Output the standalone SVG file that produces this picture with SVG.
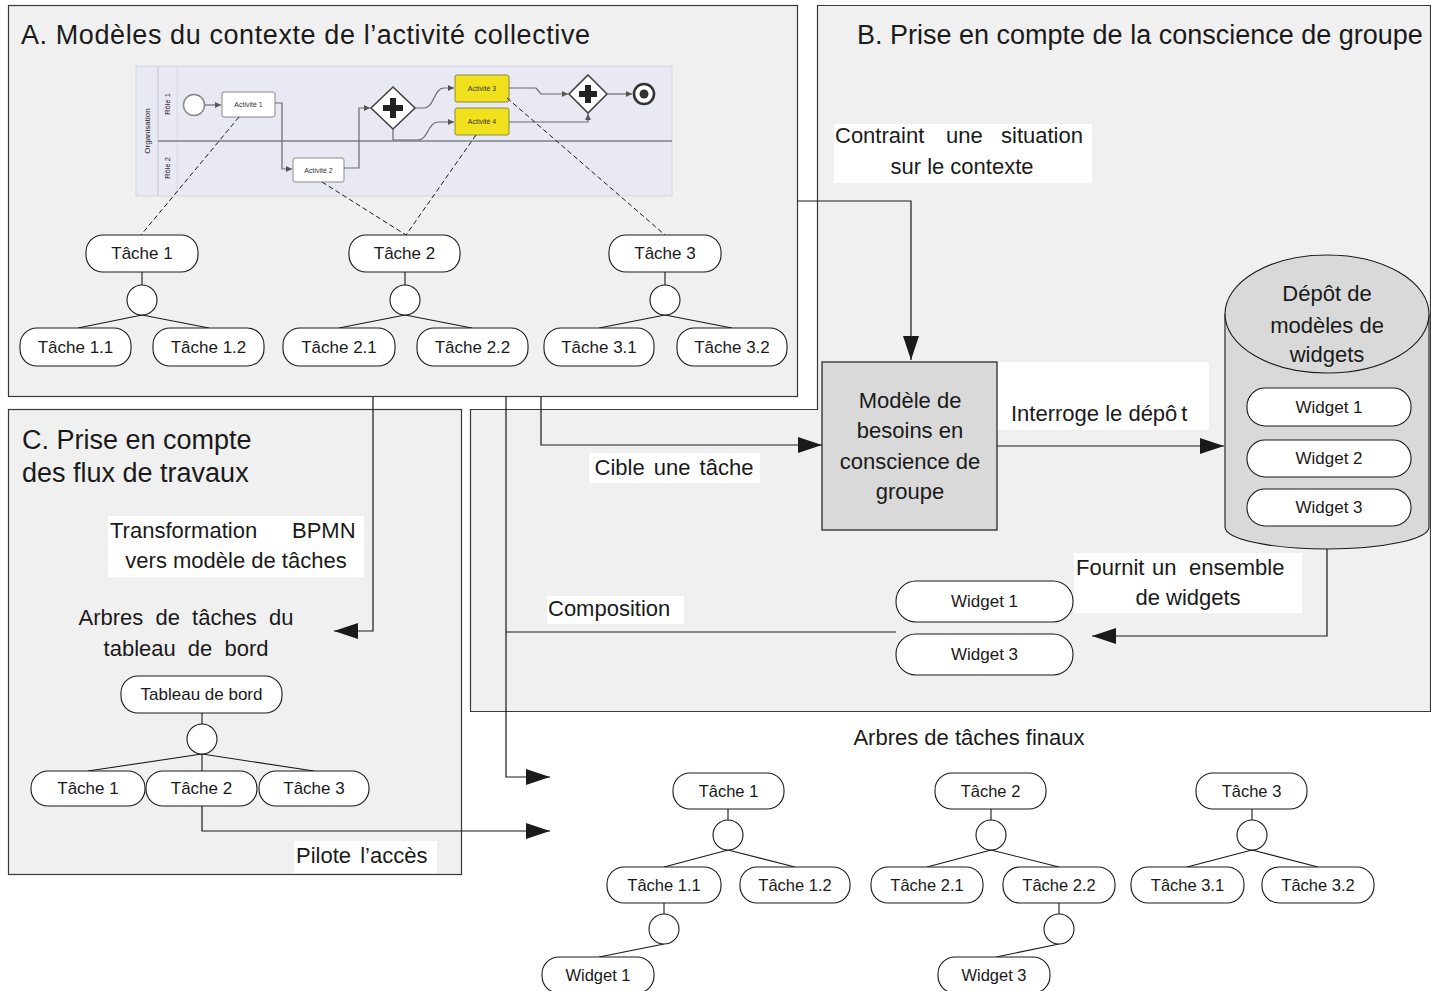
<svg xmlns="http://www.w3.org/2000/svg" width="1431" height="991" viewBox="0 0 1431 991">
<style>
text{font-family:"Liberation Sans",Arial,sans-serif;fill:#1a1a1a}
.frame{fill:#f0f0f0;stroke:#3a3a3a;stroke-width:1.2}
.title{font-size:27px}
.lbl{font-size:22px}
.lblbg{fill:#ffffff;stroke:none}
.node{fill:#ffffff;stroke:#1a1a1a;stroke-width:1.1}
.nt{font-size:17px;text-anchor:middle}
.ft{font-size:16.5px;text-anchor:middle}
.op{fill:#ffffff;stroke:#1a1a1a;stroke-width:1.1}
.tl{stroke:#1a1a1a;stroke-width:1.1;fill:none}
.conn{stroke:#1a1a1a;stroke-width:1.2;fill:none}
.dash{stroke:#1a1a1a;stroke-width:1;fill:none;stroke-dasharray:5 3}
.bp{stroke:#6a6a6a;stroke-width:1.2;fill:none}
.act{fill:#ffffff;stroke:#8a8a8a;stroke-width:1}
.acty{fill:#f1e11c;stroke:#8a8a3a;stroke-width:1}
.at{font-size:7px;text-anchor:middle;fill:#333}
.gw{fill:#ffffff;stroke:#444;stroke-width:1.6}
.big{font-size:22px;text-anchor:middle}
</style>
<defs>
<marker id="arr" markerUnits="userSpaceOnUse" markerWidth="24" markerHeight="16" refX="24" refY="8" orient="auto">
<path d="M0,0 L24,8 L0,16 Z" fill="#1a1a1a"/>
</marker>
<marker id="sarr" markerUnits="userSpaceOnUse" markerWidth="6" markerHeight="6" refX="6" refY="3" orient="auto">
<path d="M0,0 L6,3 L0,6 Z" fill="#555"/>
</marker>
</defs>
<rect x="0" y="0" width="1431" height="991" fill="#ffffff"/>

<!-- Frames -->
<g id="frameA">
<rect class="frame" x="8.5" y="5.5" width="789" height="391"/>
<text class="title" x="21" y="44" font-size="28" textLength="569" lengthAdjust="spacing">A. Modèles du contexte de l’activité collective</text>
</g>
<g id="frameB">
<path class="frame" d="M817.5,5.5 H1430.5 V711.5 H470.5 V409.5 H817.5 Z"/>
<text class="title" x="857" y="44">B. Prise en compte de la conscience de groupe</text>
</g>
<g id="frameC">
<rect class="frame" x="8.5" y="409.5" width="453" height="465"/>
<text class="title" x="22" y="449" font-size="28">C. Prise en compte</text>
<text class="title" x="22" y="482" font-size="28">des flux de travaux</text>
</g>

<!-- BPMN picture -->
<g id="bpmn">
<rect x="136" y="66" width="536" height="130" fill="#e9e9f3" stroke="#d6d6e2" stroke-width="1"/>
<line x1="158" y1="66" x2="158" y2="196" stroke="#c4c4d4" stroke-width="1"/>
<line x1="177" y1="66" x2="177" y2="196" stroke="#dadae6" stroke-width="1"/>
<line x1="158" y1="141" x2="672" y2="141" stroke="#9a9aa6" stroke-width="2"/>
<text x="0" y="0" font-size="8" fill="#5b7db5" text-anchor="middle" transform="translate(150,131) rotate(-90)">Organisation</text>
<text x="0" y="0" font-size="7.5" fill="#777" text-anchor="middle" transform="translate(170,104) rotate(-90)">Rôle 1</text>
<text x="0" y="0" font-size="7.5" fill="#777" text-anchor="middle" transform="translate(170,168) rotate(-90)">Rôle 2</text>
<circle cx="194" cy="105" r="10.5" fill="#fff" stroke="#888" stroke-width="1.5"/>
<path class="bp" d="M205,105 H221" marker-end="url(#sarr)"/>
<rect class="act" x="222" y="92" width="53" height="25" rx="2"/>
<text class="at" x="248.5" y="107">Activité 1</text>
<path class="bp" d="M275,103 H282 V169 H292" marker-end="url(#sarr)"/>
<rect class="act" x="293" y="158" width="51" height="24" rx="2"/>
<text class="at" x="318.5" y="172.5">Activité 2</text>
<path class="bp" d="M344,168 H359 V108 H370" marker-end="url(#sarr)"/>
<polygon class="gw" points="393,87 415,108 393,129 371,108"/>
<path d="M393,98 V118 M383,108 H403" stroke="#222" stroke-width="6"/>
<path class="bp" d="M415,108 H424 C434,108 434,88 444,88 H454" marker-end="url(#sarr)"/>
<path class="bp" d="M393,129 V140 H418 C428,140 428,122 438,122 H454" marker-end="url(#sarr)"/>
<rect class="acty" x="455" y="75" width="54" height="27" rx="2"/>
<text class="at" x="482" y="91">Activité 3</text>
<rect class="acty" x="455" y="108" width="54" height="27" rx="2"/>
<text class="at" x="482" y="124">Activité 4</text>
<path class="bp" d="M509,88 H536 L541,94 H568" marker-end="url(#sarr)"/>
<path class="bp" d="M509,122 H588 V114" marker-end="url(#sarr)"/>
<polygon class="gw" points="588,75 607,94 588,113 569,94"/>
<path d="M588,85 V103 M579,94 H597" stroke="#222" stroke-width="6"/>
<path class="bp" d="M607,94 H632" marker-end="url(#sarr)"/>
<circle cx="644" cy="94" r="10" fill="#fff" stroke="#333" stroke-width="2.6"/>
<circle cx="644" cy="94" r="4.5" fill="#333"/>
</g>

<!-- Connectors -->
<g id="connectors">
<path class="dash" d="M239,117 L141,235"/>
<path class="dash" d="M322,182 L406,235"/>
<path class="dash" d="M476,135 L406,235"/>
<path class="dash" d="M507,98 L665,235"/>
<path class="conn" d="M797,201 H911 V360" marker-end="url(#arr)"/>
<path class="conn" d="M541,397 V445 H822" marker-end="url(#arr)"/>
<path class="conn" d="M997,446 H1224" marker-end="url(#arr)"/>
<path class="conn" d="M1327,549 V636 H1092" marker-end="url(#arr)"/>
<path class="conn" d="M896,632 H506"/>
<path class="conn" d="M506,397 V777 H550" marker-end="url(#arr)"/>
<path class="conn" d="M373,397 V631 H334" marker-end="url(#arr)"/>
<path class="conn" d="M202,806 V831 H550" marker-end="url(#arr)"/>
<!-- tree links A -->
<path class="tl" d="M142,272 V285 M142,315 L78,328 M142,315 L209,328"/>
<path class="tl" d="M405,272 V285 M405,315 L339,328 M405,315 L472,328"/>
<path class="tl" d="M665,272 V285 M665,315 L599,328 M665,315 L732,328"/>
<!-- tree links C -->
<path class="tl" d="M202,713 V724 M202,754 L88,771 M202,754 V771 M202,754 L314,771"/>
<!-- final trees -->
<path class="tl" d="M728,809 V820 M728,850 L664,867 M728,850 L795,867"/>
<path class="tl" d="M664,903 V914 M664,944 L599,957"/>
<path class="tl" d="M991,809 V820 M991,850 L927,867 M991,850 L1059,867"/>
<path class="tl" d="M1059,903 V914 M1059,944 L996,957"/>
<path class="tl" d="M1252,809 V820 M1252,850 L1187,867 M1252,850 L1318,867"/>
</g>

<!-- Connector labels -->
<g id="labels">
<rect class="lblbg" x="834" y="124" width="258" height="59"/>
<text class="lbl" y="143"><tspan x="835">Contraint</tspan><tspan x="946">une</tspan><tspan x="1001">situation</tspan></text>
<text class="lbl" x="962" y="174" text-anchor="middle">sur le contexte</text>
<rect class="lblbg" x="997" y="362" width="212" height="68"/>
<text class="lbl" x="1011" y="421" font-size="23">Interroge le dépô<tspan dx="4">t</tspan></text>
<rect class="lblbg" x="589" y="453" width="171" height="30"/>
<text class="lbl" x="674" y="475" text-anchor="middle" word-spacing="3">Cible une tâche</text>
<rect class="lblbg" x="1074" y="553" width="228" height="60"/>
<text class="lbl" y="575"><tspan x="1076">Fournit</tspan><tspan x="1152">un</tspan><tspan x="1189">ensemble</tspan></text>
<text class="lbl" x="1188" y="605" text-anchor="middle">de widgets</text>
<rect class="lblbg" x="547" y="596" width="137" height="28"/>
<text class="lbl" x="548" y="616">Composition</text>
<rect class="lblbg" x="108" y="516" width="256" height="61"/>
<text class="lbl" y="538" font-size="22.5"><tspan x="110">Transformation</tspan><tspan x="292">BPMN</tspan></text>
<text class="lbl" x="236" y="568" text-anchor="middle" font-size="22.5">vers modèle de tâches</text>
<text class="lbl" x="186" y="625" text-anchor="middle" word-spacing="6">Arbres de tâches du</text>
<text class="lbl" x="186" y="656" text-anchor="middle" word-spacing="6">tableau de bord</text>
<rect class="lblbg" x="294" y="841" width="143" height="32"/>
<text class="lbl" x="296" y="863" word-spacing="3">Pilote l’accès</text>
<text class="lbl" x="969" y="745" text-anchor="middle">Arbres de tâches finaux</text>
</g>

<!-- B nodes -->
<g id="modele">
<rect x="822" y="362" width="175" height="168" fill="#d9d9d9" stroke="#1a1a1a" stroke-width="1.2"/>
<text class="big" x="910" y="408">Modèle de</text>
<text class="big" x="910" y="438">besoins en</text>
<text class="big" x="910" y="469">conscience de</text>
<text class="big" x="910" y="499">groupe</text>
</g>
<g id="depot">
<path d="M1225,314 V527 A102,22 0 0 0 1429,527 V314" fill="#d9d9d9" stroke="#1a1a1a" stroke-width="1.1"/>
<ellipse cx="1327" cy="314" rx="102" ry="59" fill="#d9d9d9" stroke="#1a1a1a" stroke-width="1.1"/>
<text class="big" x="1327" y="301">Dépôt de</text>
<text class="big" x="1327" y="333">modèles de</text>
<text class="big" x="1327" y="362">widgets</text>
</g>
<g id="depot-w1"><rect class="node" x="1247" y="388" width="164" height="38" rx="18"/><text class="nt" x="1329" y="413">Widget 1</text></g>
<g id="depot-w2"><rect class="node" x="1247" y="440" width="164" height="37" rx="18"/><text class="nt" x="1329" y="464">Widget 2</text></g>
<g id="depot-w3"><rect class="node" x="1247" y="489" width="164" height="37" rx="18"/><text class="nt" x="1329" y="513">Widget 3</text></g>
<g id="sel-w1"><rect class="node" x="896" y="581" width="177" height="41" rx="20"/><text class="nt" x="984.5" y="607" font-size="16">Widget 1</text></g>
<g id="sel-w3"><rect class="node" x="896" y="634" width="177" height="41" rx="20"/><text class="nt" x="984.5" y="660" font-size="16">Widget 3</text></g>

<!-- A tree nodes -->
<g id="a-t1"><rect class="node" x="86" y="235" width="112" height="37" rx="17"/><text class="nt" x="142" y="259">Tâche 1</text></g>
<g id="a-t1-op"><circle class="op" cx="142" cy="300" r="15"/></g>
<g id="a-t11"><rect class="node" x="20" y="328" width="111" height="38" rx="17"/><text class="nt" x="75.5" y="353">Tâche 1.1</text></g>
<g id="a-t12"><rect class="node" x="153" y="328" width="111" height="38" rx="17"/><text class="nt" x="208.5" y="353">Tâche 1.2</text></g>
<g id="a-t2"><rect class="node" x="349" y="235" width="111" height="37" rx="17"/><text class="nt" x="404.5" y="259">Tâche 2</text></g>
<g id="a-t2-op"><circle class="op" cx="405" cy="300" r="15"/></g>
<g id="a-t21"><rect class="node" x="283" y="328" width="112" height="38" rx="17"/><text class="nt" x="339" y="353">Tâche 2.1</text></g>
<g id="a-t22"><rect class="node" x="417" y="328" width="111" height="38" rx="17"/><text class="nt" x="472.5" y="353">Tâche 2.2</text></g>
<g id="a-t3"><rect class="node" x="609" y="235" width="112" height="37" rx="17"/><text class="nt" x="665" y="259">Tâche 3</text></g>
<g id="a-t3-op"><circle class="op" cx="665" cy="300" r="15"/></g>
<g id="a-t31"><rect class="node" x="544" y="328" width="110" height="38" rx="17"/><text class="nt" x="599" y="353">Tâche 3.1</text></g>
<g id="a-t32"><rect class="node" x="677" y="328" width="110" height="38" rx="17"/><text class="nt" x="732" y="353">Tâche 3.2</text></g>

<!-- C tree nodes -->
<g id="c-root"><rect class="node" x="121" y="676" width="161" height="37" rx="17"/><text class="nt" x="201.5" y="700">Tableau de bord</text></g>
<g id="c-op"><circle class="op" cx="202" cy="739" r="15"/></g>
<g id="c-t1"><rect class="node" x="31" y="771" width="114" height="35" rx="17"/><text class="nt" x="88" y="794">Tâche 1</text></g>
<g id="c-t2"><rect class="node" x="146" y="771" width="111" height="35" rx="17"/><text class="nt" x="201.5" y="794">Tâche 2</text></g>
<g id="c-t3"><rect class="node" x="259" y="771" width="110" height="35" rx="17"/><text class="nt" x="314" y="794">Tâche 3</text></g>

<!-- Final trees -->
<g id="f-t1"><rect class="node" x="673" y="773" width="111" height="36" rx="17"/><text class="ft" x="728.5" y="797">Tâche 1</text></g>
<g id="f-t1-op"><circle class="op" cx="728" cy="835" r="15"/></g>
<g id="f-t11"><rect class="node" x="607" y="867" width="114" height="36" rx="17"/><text class="ft" x="664" y="891">Tâche 1.1</text></g>
<g id="f-t12"><rect class="node" x="740" y="867" width="110" height="36" rx="17"/><text class="ft" x="795" y="891">Tâche 1.2</text></g>
<g id="f-t11-op"><circle class="op" cx="664" cy="929" r="15"/></g>
<g id="f-w1"><rect class="node" x="542" y="957" width="112" height="36" rx="17"/><text class="ft" x="598" y="981">Widget 1</text></g>
<g id="f-t2"><rect class="node" x="935" y="773" width="111" height="36" rx="17"/><text class="ft" x="990.5" y="797">Tâche 2</text></g>
<g id="f-t2-op"><circle class="op" cx="991" cy="835" r="15"/></g>
<g id="f-t21"><rect class="node" x="871" y="867" width="112" height="36" rx="17"/><text class="ft" x="927" y="891">Tâche 2.1</text></g>
<g id="f-t22"><rect class="node" x="1003" y="867" width="112" height="36" rx="17"/><text class="ft" x="1059" y="891">Tâche 2.2</text></g>
<g id="f-t22-op"><circle class="op" cx="1059" cy="929" r="15"/></g>
<g id="f-w3"><rect class="node" x="938" y="957" width="112" height="36" rx="17"/><text class="ft" x="994" y="981">Widget 3</text></g>
<g id="f-t3"><rect class="node" x="1196" y="773" width="111" height="36" rx="17"/><text class="ft" x="1251.5" y="797">Tâche 3</text></g>
<g id="f-t3-op"><circle class="op" cx="1252" cy="835" r="15"/></g>
<g id="f-t31"><rect class="node" x="1131" y="867" width="113" height="36" rx="17"/><text class="ft" x="1187.5" y="891">Tâche 3.1</text></g>
<g id="f-t32"><rect class="node" x="1262" y="867" width="112" height="36" rx="17"/><text class="ft" x="1318" y="891">Tâche 3.2</text></g>
</svg>
